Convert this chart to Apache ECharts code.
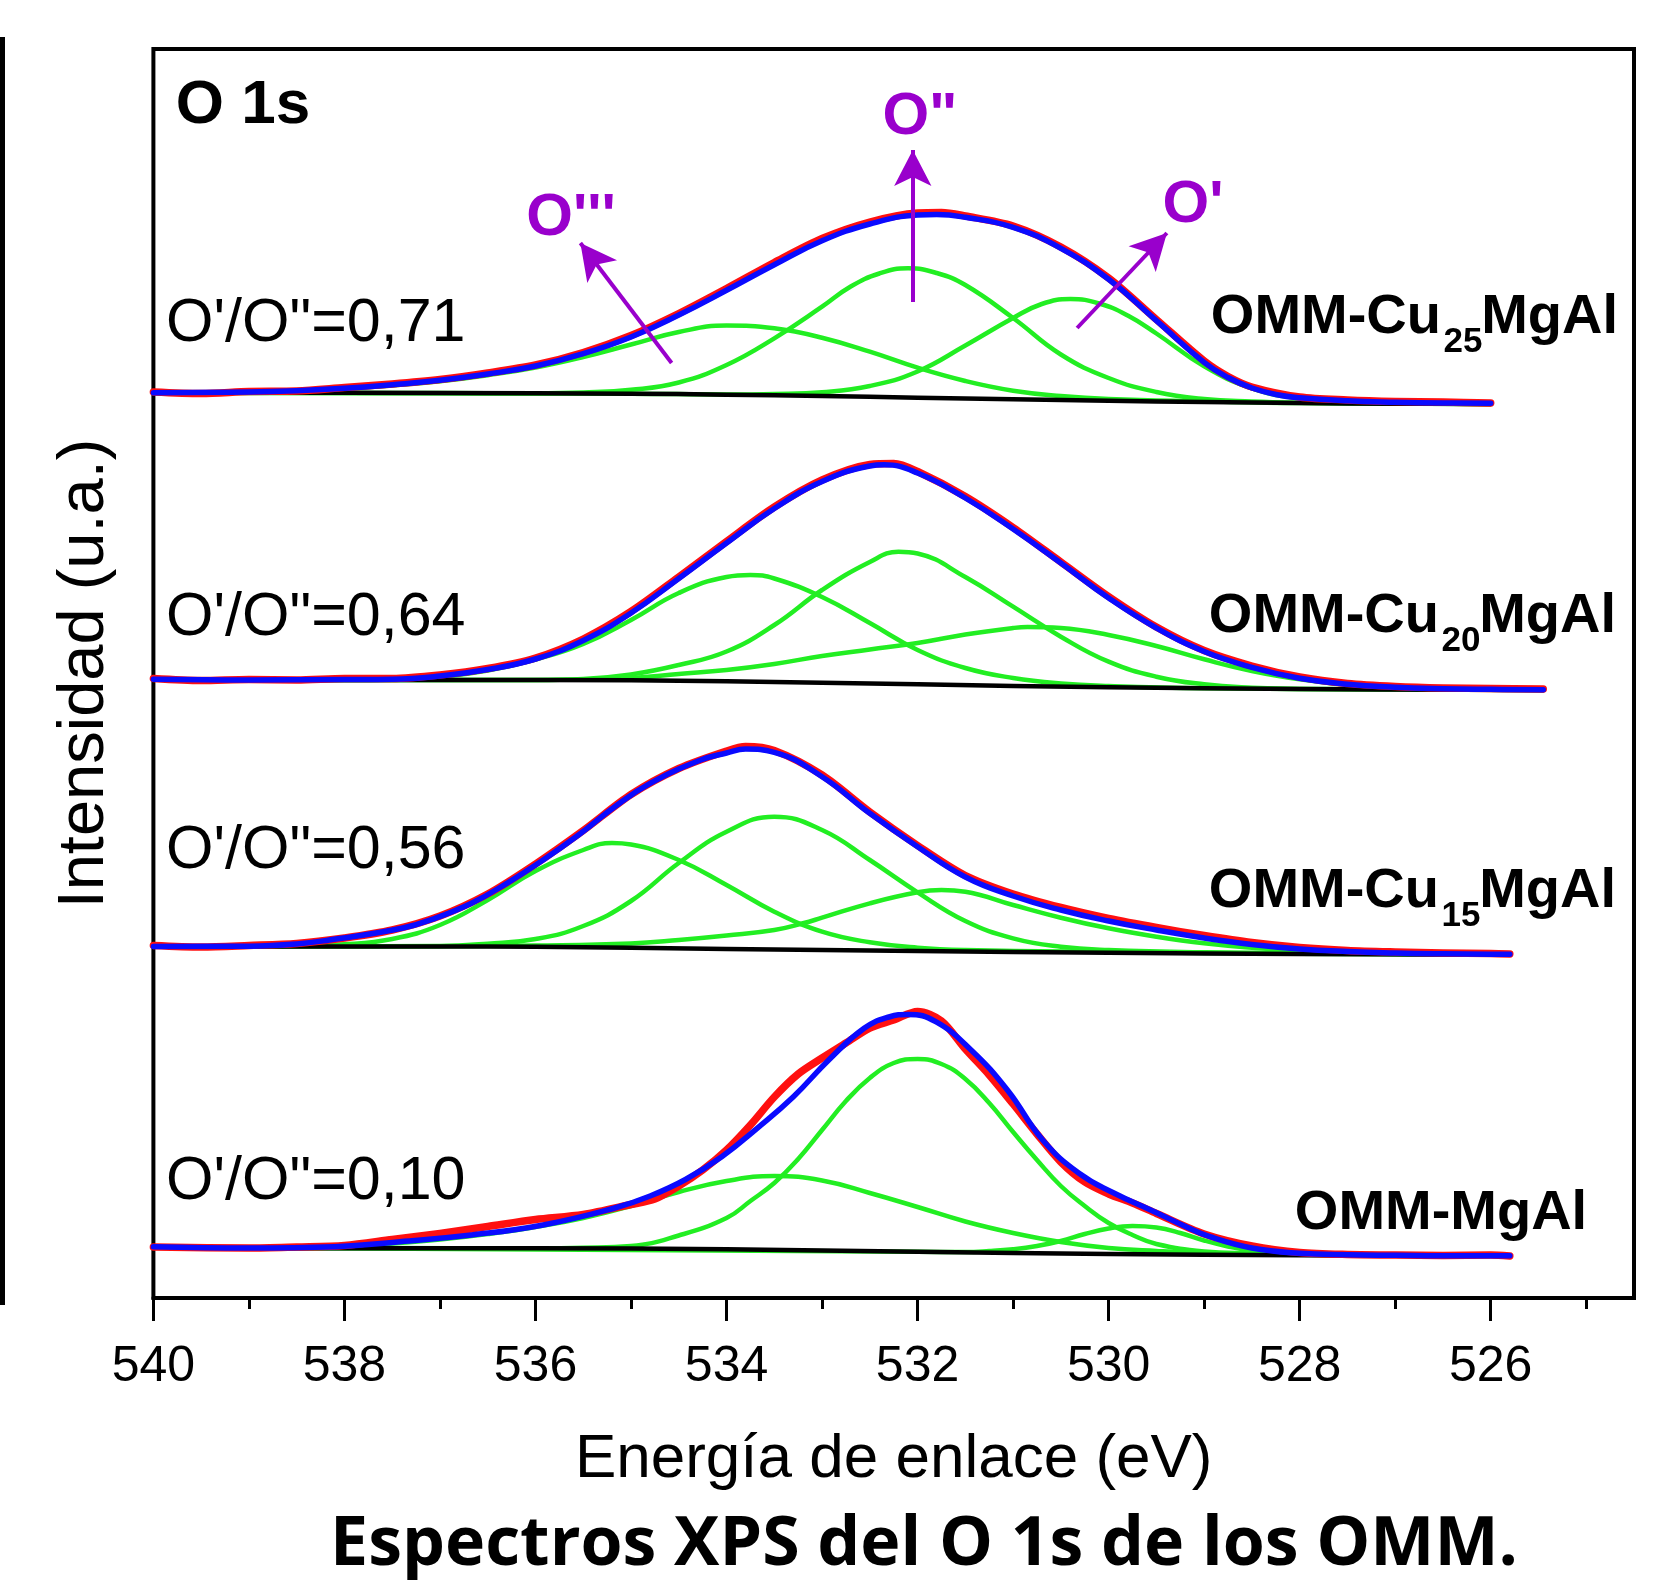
<!DOCTYPE html>
<html><head><meta charset="utf-8">
<script src="https://cdn.jsdelivr.net/npm/echarts@6/dist/echarts.min.js"></script>
<style>html,body{margin:0;padding:0;background:#fff}#c{width:1680px;height:1580px}</style>
</head><body><div id="c"></div>
<script>
// ---------------- data (binding energy eV, intensity a.u. incl. vertical offset) ----------------
const xMajorTicks = [526, 528, 530, 532, 534, 536, 538, 540];
const xMinorTicks = [525, 527, 529, 531, 533, 535, 537, 539];
const xAxisTitle = 'Energía de enlace (eV)';
const yAxisTitle = 'Intensidad (u.a.)';
const chartTitle = 'Espectros XPS del O 1s de los OMM.';
const panelLabel = 'O 1s';
const ratioLabels = ["O'/O\"=0,71", "O'/O\"=0,64", "O'/O\"=0,56", "O'/O\"=0,10"];
const sampleLabels = [['OMM-Cu', '25', 'MgAl'], ['OMM-Cu', '20', 'MgAl'], ['OMM-Cu', '15', 'MgAl'], ['OMM-MgAl', '', '']];
const peakLabels = ["O'''", "O\"", "O'"];

// OMM-Cu25MgAl
const s1Raw = [[540,90.7],[539.5,90.55],[539,90.75],[538.5,90.8],[538,91.15],[537.5,91.5],[537,91.95],[536.5,92.6],[536,93.4],[535.5,94.65],[535,96.35],[534.5,98.55],[534,101.05],[533.5,103.65],[533,106.05],[532.5,107.7],[532,108.6],[531.75,108.65],[531.5,108.3],[531,107.3],[530.5,105.2],[530,102.1],[529.5,97.95],[529,93.8],[528.75,92.25],[528.5,91.2],[528,90.2],[527.5,89.9],[527,89.75],[526.5,89.7],[526,89.6]];
const s1Fit = [[540,90.63],[539,90.7],[538.5,90.83],[538,91.07],[537.5,91.43],[537,91.87],[536.5,92.5],[536,93.3],[535.5,94.53],[535,96.2],[534.5,98.4],[534,100.87],[533.5,103.43],[533,105.83],[532.5,107.5],[532,108.4],[531.8,108.45],[531.5,108.17],[531,107.17],[530.5,105.07],[530,101.97],[529.5,97.83],[529,93.67],[528.75,92.15],[528.5,91.1],[528.25,90.45],[528,90.12],[527.5,89.82],[527,89.68],[526.5,89.6],[526,89.57]];
const s1Base = [[540,90.63],[537,90.6],[535,90.53],[534,90.43],[533,90.3],[532,90.13],[531,89.97],[530,89.83],[529,89.7],[528,89.6],[527,89.53],[526,89.5]];
const s1O3 = [[540,90.63],[539,90.66],[538.5,90.78],[538,91.0],[537.5,91.35],[537,91.78],[536.5,92.38],[536,93.15],[535.5,94.2],[535,95.45],[534.5,96.7],[534,97.35],[533.5,97.07],[533,96.13],[532.5,94.73],[532,93.13],[531.5,91.8],[531,90.83],[530.5,90.3],[530,90.0],[529,89.77],[528,89.6],[526,89.5]];
const s1O2 = [[540,90.63],[537,90.6],[536,90.57],[535.5,90.65],[535,90.92],[534.5,91.65],[534,93.4],[533.5,96.07],[533,99.23],[532.7,101.25],[532.4,102.55],[532.1,103.07],[531.8,102.6],[531.5,101.4],[531,98.1],[530.5,94.45],[530,92.1],[529.5,90.7],[529,90.0],[528.5,89.75],[528,89.63],[527,89.53],[526,89.5]];
const s1O1 = [[540,90.63],[535,90.53],[534,90.45],[533.5,90.5],[533,90.68],[532.5,91.3],[532,92.75],[531.5,95.35],[531,98.1],[530.7,99.5],[530.4,100.0],[530.1,99.55],[529.8,98.35],[529.5,96.55],[529,93.27],[528.5,91.07],[528,90.05],[527.5,89.68],[527,89.57],[526,89.5]];

// OMM-Cu20MgAl
const s2Raw = [[540,62.05],[539.5,61.85],[539,61.95],[538.5,61.9],[538,62.05],[537.5,62.05],[537,62.4],[536.5,63.05],[536,64.1],[535.5,66.0],[535,68.75],[534.5,72.2],[534,75.75],[533.5,79.2],[533,81.9],[532.5,83.45],[532.25,83.55],[532,82.75],[531.5,80.25],[531,77.15],[530.5,73.7],[530,70.25],[529.5,67.2],[529,64.85],[528.5,63.3],[528,62.2],[527.5,61.55],[527,61.25],[526.5,61.1],[526,61.05],[525.45,61.0]];
const s2Fit = [[540,61.97],[539,61.9],[538,61.95],[537.5,61.98],[537,62.3],[536.5,62.95],[536,64.0],[535.5,65.85],[535,68.6],[534.5,72.05],[534,75.6],[533.5,79.05],[533,81.75],[532.5,83.3],[532.35,83.42],[532,82.6],[531.5,80.1],[531,77.0],[530.5,73.6],[530,70.1],[529.5,67.1],[529,64.75],[528.5,63.17],[528,62.07],[527.5,61.47],[527,61.17],[526.5,61.03],[526,60.97],[525.45,60.93]];
const s2Base = [[540,61.93],[538,61.9],[536,61.9],[534,61.77],[532,61.47],[530,61.17],[528,61.0],[525.45,60.9]];
const s2O3 = [[540,61.93],[538,61.9],[537.5,61.95],[537,62.2],[536.5,62.85],[536,63.95],[535.5,65.5],[535,67.9],[534.5,70.6],[534,72.2],[533.75,72.4],[533.5,72.05],[533,70.2],[532.5,67.6],[532,64.9],[531.5,63.1],[531,62.1],[530.5,61.55],[530,61.3],[529,61.07],[527,60.97],[525.45,60.9]];
const s2O2 = [[540,61.93],[536,61.9],[535.5,62.0],[535,62.45],[534.5,63.4],[534,64.75],[533.5,67.4],[533,70.9],[532.5,73.7],[532.2,74.73],[532,74.55],[531.5,72.2],[531,69.23],[530.5,66.23],[530,63.73],[529.5,62.23],[529,61.47],[528.5,61.13],[528,61.0],[525.45,60.9]];
const s2O1 = [[540,61.93],[536,61.9],[535,62.1],[534.5,62.5],[534,62.9],[533.5,63.5],[533,64.3],[532.5,64.95],[532,65.6],[531.5,66.45],[531,67.1],[530.85,67.2],[530.5,67.1],[530,66.4],[529.5,65.3],[529,63.97],[528.5,62.8],[528,61.97],[527.5,61.43],[527,61.17],[526,60.97],[525.45,60.9]];

// OMM-Cu15MgAl
const s3Raw = [[540,35.35],[539.5,35.2],[539,35.35],[538.5,35.55],[538,36.1],[537.5,36.9],[537,38.3],[536.5,40.5],[536,43.5],[535.5,46.85],[535,50.45],[534.5,53.05],[534,54.8],[533.8,55.25],[533.5,54.85],[533,52.4],[532.5,48.7],[532,45.35],[531.5,42.35],[531,40.5],[530.5,39.15],[530,38.05],[529.5,37.15],[529,36.35],[528.5,35.65],[528,35.15],[527.5,34.85],[527,34.7],[526.5,34.6],[526,34.55],[525.8,34.5]];
const s3Fit = [[540,35.25],[539,35.28],[538.5,35.5],[538.16,35.9],[537.4,37.07],[537.05,38.07],[536.67,39.57],[536.3,41.57],[535.92,43.9],[535.55,46.4],[535.17,49.23],[534.8,51.57],[534.27,53.9],[534,54.6],[533.8,55.0],[533.5,54.67],[533,52.23],[532.5,48.57],[532,45.23],[531.5,42.2],[531,40.3],[530.5,38.9],[530,37.8],[529.5,36.9],[529,36.1],[528.5,35.45],[528,35.0],[527.5,34.75],[527,34.6],[526.5,34.52],[526,34.48],[525.8,34.47]];
const s3Base = [[540,35.25],[537,35.25],[536,35.22],[534,35.0],[532,34.8],[530,34.63],[528,34.5],[525.8,34.43]];
const s3O3 = [[540,35.25],[538.5,35.33],[538,35.47],[537.5,36.0],[537,37.4],[536.5,39.9],[536,42.8],[535.5,44.9],[535.2,45.6],[535,45.45],[534.5,43.9],[534,41.4],[533.5,38.73],[533,36.73],[532.5,35.67],[532,35.13],[531.5,34.9],[530,34.7],[528,34.53],[525.8,34.45]];
const s3O2 = [[540,35.25],[537,35.3],[536.5,35.53],[536,36.0],[535.5,37.3],[535,39.8],[534.5,43.6],[534,46.73],[533.5,48.23],[533,46.9],[532.5,43.9],[532,40.67],[531.5,37.8],[531,36.07],[530.5,35.23],[530,34.9],[529,34.67],[527,34.5],[525.8,34.45]];
const s3O1 = [[540,35.25],[537,35.28],[536,35.35],[535,35.55],[534.5,35.9],[534,36.35],[533.5,36.9],[533.2,37.57],[533,38.13],[532.5,39.57],[532,40.67],[531.75,40.9],[531.5,40.73],[531,39.4],[530.5,38.13],[530,37.07],[529.5,36.23],[529,35.57],[528.5,35.13],[528,34.83],[527,34.57],[525.8,34.45]];

// OMM-MgAl
const s4Raw = [[540,5.2],[539,5.1],[538.5,5.2],[538,5.35],[537.5,5.95],[537,6.55],[536.5,7.25],[536,7.95],[535.5,8.45],[535,9.45],[534.75,10.0],[534.5,11.3],[534.25,12.9],[534,14.9],[533.75,17.4],[533.5,20.2],[533.25,22.5],[533,24.1],[532.75,25.6],[532.5,27.1],[532.25,27.9],[532,28.75],[531.75,27.8],[531.5,25.0],[531.25,22.4],[531,19.5],[530.75,16.5],[530.5,13.7],[530.25,11.7],[530,10.5],[529.75,9.6],[529.5,8.55],[529,6.5],[528.5,5.3],[528,4.65],[527.5,4.45],[527,4.4],[526.5,4.35],[526,4.4],[525.8,4.3]];
const s4Fit = [[540,5.23],[539,5.1],[538.1,5.23],[537.42,5.73],[536.67,6.4],[535.92,7.4],[535.17,9.1],[534.8,10.3],[534.43,11.95],[534.05,14.23],[533.68,17.07],[533.3,20.23],[532.93,23.9],[532.56,27.07],[532.3,28.2],[532.1,28.45],[531.81,27.73],[531.44,24.9],[531.06,20.9],[530.69,15.9],[530.31,12.57],[529.94,10.57],[529.56,8.9],[529.19,7.23],[528.94,6.23],[528.5,5.1],[528,4.57],[527.5,4.42],[527,4.37],[526.5,4.33],[526,4.33],[525.8,4.33]];
const s4Base = [[540,5.17],[538,5.07],[536,5.07],[534,4.97],[532,4.73],[530,4.5],[528,4.37],[525.8,4.3]];
const s4O3 = [[540,5.17],[539,5.1],[538,5.2],[537.5,5.55],[537,5.95],[536.5,6.5],[536,7.2],[535.5,8.1],[535,9.3],[534.5,10.7],[534,11.8],[533.5,12.3],[533,11.85],[532.5,10.6],[532,9.2],[531.5,7.75],[531,6.6],[530.5,5.7],[530,5.1],[529.5,4.8],[529,4.6],[528,4.43],[526,4.33],[525.8,4.3]];
const s4O2 = [[540,5.17],[536,5.07],[535.5,5.12],[535,5.3],[534.5,6.35],[534,8.1],[533.75,9.8],[533.5,11.6],[533.25,14.0],[533,16.9],[532.75,19.8],[532.5,22.1],[532.25,23.6],[532,24.0],[531.75,23.5],[531.5,22.0],[531.25,19.6],[531,16.7],[530.75,13.9],[530.5,11.3],[530.25,9.3],[530,7.6],[529.75,6.4],[529.5,5.5],[529,4.75],[528.5,4.55],[528,4.43],[526,4.33],[525.8,4.3]];
const s4O1 = [[540,5.17],[532,4.73],[531.5,4.7],[531.25,4.8],[531,4.98],[530.75,5.3],[530.5,5.8],[530.25,6.5],[530,7.05],[529.75,7.3],[529.5,7.15],[529.25,6.6],[529,5.85],[528.75,5.25],[528.5,4.85],[528,4.5],[527.5,4.4],[526,4.33],[525.8,4.3]];

// arrows pointing at the component peaks (start, tip) in data coords
const arrowO3 = [[534.575, 93.6], [535.53, 105.6]];
const arrowO2 = [[532.05, 99.7], [532.05, 114.9]];
const arrowO1 = [[530.33, 97.1], [529.39, 106.6]];

// ---------------- chart ----------------
const FONT = '"Liberation Sans", Arial, Helvetica, sans-serif';
const RED = '#ff1010', BLUE = '#0a0aff', GREEN = '#22ee22', BLACK = '#000000', PURPLE = '#9900cc';

const spectra = [
  {raw: s1Raw, fit: s1Fit, base: s1Base, comps: [s1O3, s1O2, s1O1]},
  {raw: s2Raw, fit: s2Fit, base: s2Base, comps: [s2O3, s2O2, s2O1]},
  {raw: s3Raw, fit: s3Fit, base: s3Base, comps: [s3O3, s3O2, s3O1]},
  {raw: s4Raw, fit: s4Fit, base: s4Base, comps: [s4O3, s4O2, s4O1]}
];

function line(name, data, color, width, z, smooth) {
  return {
    name: name, type: 'line', data: data, showSymbol: false, symbol: 'none',
    smooth: smooth, z: z, silent: true,
    lineStyle: {color: color, width: width, cap: 'round', join: 'round'}
  };
}

const series = [];
spectra.forEach(function (s, i) {
  s.comps.forEach(function (c, j) { series.push(line('comp' + i + '_' + j, c, GREEN, 4.5, 2, 0.45)); });
  series.push(line('base' + i, s.base, BLACK, 4.5, 3, 0.4));
  series.push(line('raw' + i, s.raw, RED, 7.5, 4, 0.3));
  series.push(line('fit' + i, s.fit, BLUE, 5.5, 5, 0.45));
});

series[0].markLine = {
  silent: true, animation: false,
  symbol: ['none', 'arrow'], symbolSize: [28, 36],
  label: {show: false},
  lineStyle: {color: PURPLE, width: 4, type: 'solid'},
  data: [arrowO3, arrowO2, arrowO1].map(function (a) { return [{coord: a[0]}, {coord: a[1]}]; })
};
series[0].markLine.z = 6;

const graphic = [
  {type: 'rect', shape: {x: 0, y: 37, width: 5, height: 1268}, style: {fill: '#000'}},
  {type: 'text', x: 243, y: 106, style: {text: panelLabel, fontFamily: FONT, fontWeight: 'bold', fontSize: 62, fill: '#000', align: 'center', verticalAlign: 'middle'}},
  {type: 'text', x: 571, y: 218, style: {text: peakLabels[0], fontFamily: FONT, fontWeight: 'bold', fontSize: 60, fill: PURPLE, align: 'center', verticalAlign: 'middle'}},
  {type: 'text', x: 920, y: 117, style: {text: peakLabels[1], fontFamily: FONT, fontWeight: 'bold', fontSize: 60, fill: PURPLE, align: 'center', verticalAlign: 'middle'}},
  {type: 'text', x: 1193, y: 205, style: {text: peakLabels[2], fontFamily: FONT, fontWeight: 'bold', fontSize: 60, fill: PURPLE, align: 'center', verticalAlign: 'middle'}},
  {type: 'text', x: 924, y: 1546, style: {text: chartTitle, fontFamily: '"Open Sans", "Noto Sans", sans-serif', fontWeight: 'bold', fontSize: 68, fill: '#000', align: 'center', verticalAlign: 'middle'}}
];

const ratioY = [324, 618, 851, 1182];
ratioLabels.forEach(function (t, i) {
  graphic.push({type: 'text', x: 166, y: ratioY[i], style: {text: t, fontFamily: FONT, fontSize: 61, fill: '#000', align: 'left', verticalAlign: 'middle'}});
});

const sampleY = [318, 617, 892, 1214];
const sampleShift = [0, -2, -2, 0];
sampleLabels.forEach(function (p, i) {
  const y = sampleY[i], dx = sampleShift[i];
  if (p[1]) {
    graphic.push({type: 'text', x: 1441 + dx, y: y, style: {text: p[0], fontFamily: FONT, fontWeight: 'bold', fontSize: 56, fill: '#000', align: 'right', verticalAlign: 'middle'}});
    graphic.push({type: 'text', x: 1463 + dx, y: y + 24, style: {text: p[1], fontFamily: FONT, fontWeight: 'bold', fontSize: 35, fill: '#000', align: 'center', verticalAlign: 'middle'}});
    graphic.push({type: 'text', x: 1618 + dx, y: y, style: {text: p[2], fontFamily: FONT, fontWeight: 'bold', fontSize: 56, fill: '#000', align: 'right', verticalAlign: 'middle'}});
  } else {
    graphic.push({type: 'text', x: 1441, y: y, style: {text: p[0], fontFamily: FONT, fontWeight: 'bold', fontSize: 56, fill: '#000', align: 'center', verticalAlign: 'middle'}});
  }
});

const option = {
  animation: false,
  backgroundColor: '#ffffff',
  grid: {left: 153.4, right: 46, top: 49, bottom: 282, show: true, borderColor: '#000', borderWidth: 4, backgroundColor: 'transparent', containLabel: false},
  xAxis: [
    {
      type: 'value', min: 524.5, max: 540, inverse: true, position: 'bottom',
      axisLine: {show: true, onZero: false, lineStyle: {color: '#000', width: 4}},
      axisTick: {show: true, inside: false, length: 23, lineStyle: {color: '#000', width: 3}, customValues: xMajorTicks},
      axisLabel: {show: true, customValues: xMajorTicks, fontSize: 50, fontFamily: FONT, color: '#000', margin: 44},
      splitLine: {show: false}, minorTick: {show: false},
      name: xAxisTitle, nameLocation: 'middle', nameGap: 131,
      nameTextStyle: {fontSize: 62, fontFamily: FONT, color: '#000'}
    },
    {
      type: 'value', min: 524.5, max: 540, inverse: true, position: 'bottom',
      axisLine: {show: false, onZero: false},
      axisTick: {show: true, inside: false, length: 11, lineStyle: {color: '#000', width: 3}, customValues: xMinorTicks},
      axisLabel: {show: false}, splitLine: {show: false}
    }
  ],
  yAxis: {
    type: 'value', min: 0.1, max: 125,
    axisLine: {show: false}, axisTick: {show: false}, axisLabel: {show: false}, splitLine: {show: false},
    name: yAxisTitle, nameLocation: 'middle', nameGap: 36, nameRotate: 90,
    nameTextStyle: {fontSize: 65, fontFamily: FONT, color: '#000'}
  },
  series: series,
  graphic: graphic
};

const chart = echarts.init(document.getElementById('c'), null, {renderer: 'canvas'});
chart.setOption(option);
</script>
</body></html>
